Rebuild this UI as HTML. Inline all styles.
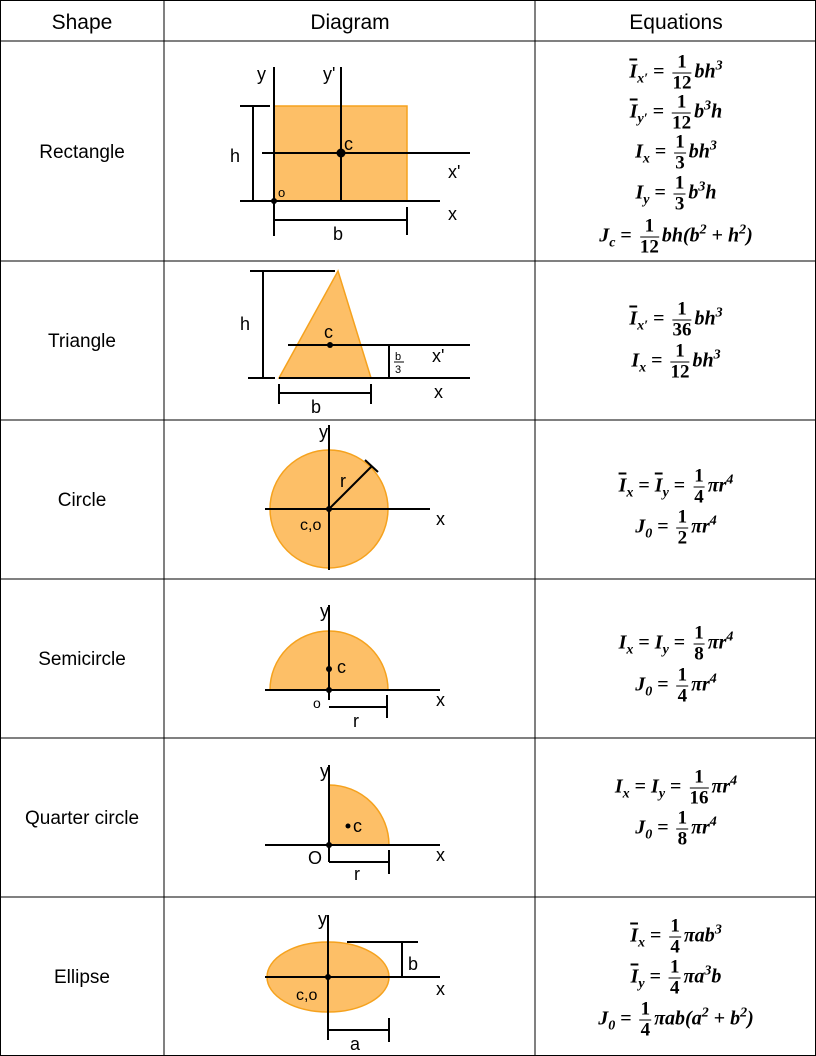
<!DOCTYPE html>
<html><head><meta charset="utf-8"><style>
body{margin:0;width:816px;height:1056px;background:#fff;position:relative;overflow:hidden;font-family:"Liberation Sans",sans-serif}
svg{position:absolute;left:0;top:0}
.eq{position:absolute;left:676px;transform:translate(-50%,-50%);white-space:nowrap;font-family:"Liberation Serif",serif;font-weight:bold;font-style:italic;font-size:20px;line-height:20px;color:#000}
.fr{display:inline-block;vertical-align:middle;text-align:center;font-style:normal;font-size:19px;line-height:18px;margin:0 3px}
.fr .n{display:block;border-bottom:1.4px solid #000;padding:0 1px 1px}
.fr .d{display:block;padding-top:1px}
.op{font-style:normal;margin:0 5px}
.ob{text-decoration:overline}
.sb{font-size:14px;vertical-align:-5px}
.sp{font-size:14px;vertical-align:8px}
</style></head><body>
<svg width="816" height="1056">
<g stroke="#000" stroke-width="1">
<rect x="0.5" y="0.5" width="815" height="1055" fill="none"/>
<line x1="164" y1="0" x2="164" y2="1056"/><line x1="535" y1="0" x2="535" y2="1056"/>
<line x1="0" y1="41" x2="816" y2="41"/><line x1="0" y1="261" x2="816" y2="261"/>
<line x1="0" y1="420" x2="816" y2="420"/><line x1="0" y1="579" x2="816" y2="579"/>
<line x1="0" y1="738" x2="816" y2="738"/><line x1="0" y1="897" x2="816" y2="897"/>
</g>
<g font-family="Liberation Sans" font-size="21" text-anchor="middle">
<text x="82" y="29">Shape</text>
<text x="350" y="29">Diagram</text>
<text x="676" y="29">Equations</text>
</g>
<g font-family="Liberation Sans" font-size="19" text-anchor="middle">
<text x="82" y="158">Rectangle</text>
<text x="82" y="347">Triangle</text>
<text x="82" y="506">Circle</text>
<text x="82" y="665">Semicircle</text>
<text x="82" y="824">Quarter circle</text>
<text x="82" y="983">Ellipse</text>
</g>
<g fill="#FDBF67" stroke="#F5A21E" stroke-width="1.5">
<rect x="274" y="106" width="133" height="95"/>
<polygon points="279,378 371,378 338,271"/>
<circle cx="329" cy="509" r="59"/>
<path d="M270,690 A59,59 0 0 1 388,690 Z"/>
<path d="M329,845 L329,785 A60,60 0 0 1 389,845 Z"/>
<ellipse cx="328" cy="977" rx="61" ry="35"/>
</g>
<g stroke="#000" stroke-width="2" fill="none">
<line x1="274" y1="67" x2="274" y2="236"/><line x1="341" y1="67" x2="341" y2="201"/>
<line x1="240" y1="201" x2="440" y2="201"/><line x1="262" y1="153" x2="470" y2="153"/>
<line x1="253" y1="106" x2="253" y2="201"/><line x1="240" y1="106" x2="270" y2="106"/>
<line x1="274" y1="220" x2="407" y2="220"/><line x1="407" y1="207" x2="407" y2="235"/>
<line x1="250" y1="271" x2="335" y2="271"/><line x1="263" y1="271" x2="263" y2="378"/>
<line x1="248" y1="378" x2="275" y2="378"/><line x1="288" y1="345" x2="470" y2="345"/>
<line x1="279" y1="378" x2="470" y2="378"/><line x1="389" y1="345" x2="389" y2="378"/>
<line x1="279" y1="393" x2="371" y2="393"/><line x1="279" y1="384" x2="279" y2="404"/><line x1="371" y1="384" x2="371" y2="404"/>
<line x1="329" y1="425" x2="329" y2="570"/><line x1="265" y1="509" x2="430" y2="509"/>
<line x1="329" y1="509" x2="372" y2="466"/><line x1="365" y1="460" x2="378" y2="472"/>
<line x1="329" y1="605" x2="329" y2="700"/><line x1="265" y1="690" x2="440" y2="690"/>
<line x1="329" y1="707" x2="387" y2="707"/><line x1="387" y1="695" x2="387" y2="718"/>
<line x1="329" y1="765" x2="329" y2="862"/><line x1="265" y1="845" x2="440" y2="845"/>
<line x1="329" y1="862" x2="389" y2="862"/><line x1="389" y1="850" x2="389" y2="874"/>
<line x1="328" y1="915" x2="328" y2="1040"/><line x1="265" y1="977" x2="440" y2="977"/>
<line x1="347" y1="942" x2="418" y2="942"/><line x1="402" y1="942" x2="402" y2="977"/>
<line x1="328" y1="1030" x2="389" y2="1030"/><line x1="389" y1="1018" x2="389" y2="1042"/>
</g>
<g fill="#000">
<circle cx="341" cy="153" r="4.5"/><circle cx="274" cy="201" r="3"/>
<circle cx="330" cy="345" r="3"/><circle cx="329" cy="509" r="3"/>
<circle cx="329" cy="669" r="3"/><circle cx="329" cy="690" r="3"/>
<circle cx="329" cy="845" r="3"/><circle cx="348" cy="826" r="2.5"/><circle cx="328" cy="977" r="3"/>
</g>
<g font-family="Liberation Sans" font-size="18" fill="#000">
<text x="257" y="80">y</text><text x="323" y="80">y'</text><text x="230" y="162">h</text>
<text x="344" y="150">c</text><text x="448" y="178">x'</text><text x="278" y="197" font-size="13">o</text>
<text x="448" y="220">x</text><text x="333" y="240">b</text>
<text x="240" y="330">h</text><text x="324" y="338">c</text><text x="432" y="362">x'</text>
<text x="434" y="398">x</text><text x="311" y="413">b</text>
<text x="395" y="360" font-size="11">b</text><line x1="394" y1="362" x2="404" y2="362" stroke="#000"/><text x="395" y="373" font-size="11">3</text>
<text x="319" y="438">y</text><text x="340" y="487">r</text><text x="300" y="530" font-size="16">c,o</text><text x="436" y="525">x</text>
<text x="320" y="617">y</text><text x="337" y="673">c</text><text x="313" y="708" font-size="14">o</text><text x="353" y="727">r</text><text x="436" y="706">x</text>
<text x="320" y="777">y</text><text x="353" y="832">c</text><text x="308" y="864">O</text><text x="354" y="880">r</text><text x="436" y="861">x</text>
<text x="318" y="925">y</text><text x="408" y="970">b</text><text x="296" y="1000" font-size="16">c,o</text><text x="436" y="995">x</text><text x="350" y="1050">a</text>
</g>
</svg>

<div class="eq" style="top:73px"><span class="ob">I</span><span class="sb">x′</span><span class="op">=</span><span class="fr"><span class="n">1</span><span class="d">12</span></span>bh<span class="sp">3</span></div>
<div class="eq" style="top:113px"><span class="ob">I</span><span class="sb">y′</span><span class="op">=</span><span class="fr"><span class="n">1</span><span class="d">12</span></span>b<span class="sp">3</span>h</div>
<div class="eq" style="top:153px">I<span class="sb">x</span><span class="op">=</span><span class="fr"><span class="n">1</span><span class="d">3</span></span>bh<span class="sp">3</span></div>
<div class="eq" style="top:194px">I<span class="sb">y</span><span class="op">=</span><span class="fr"><span class="n">1</span><span class="d">3</span></span>b<span class="sp">3</span>h</div>
<div class="eq" style="top:237px">J<span class="sb">c</span><span class="op">=</span><span class="fr"><span class="n">1</span><span class="d">12</span></span>bh(b<span class="sp">2</span><span class="op">+</span>h<span class="sp">2</span>)</div>

<div class="eq" style="top:320px"><span class="ob">I</span><span class="sb">x′</span><span class="op">=</span><span class="fr"><span class="n">1</span><span class="d">36</span></span>bh<span class="sp">3</span></div>
<div class="eq" style="top:362px">I<span class="sb">x</span><span class="op">=</span><span class="fr"><span class="n">1</span><span class="d">12</span></span>bh<span class="sp">3</span></div>

<div class="eq" style="top:487px"><span class="ob">I</span><span class="sb">x</span><span class="op">=</span><span class="ob">I</span><span class="sb">y</span><span class="op">=</span><span class="fr"><span class="n">1</span><span class="d">4</span></span>πr<span class="sp">4</span></div>
<div class="eq" style="top:528px">J<span class="sb">0</span><span class="op">=</span><span class="fr"><span class="n">1</span><span class="d">2</span></span>πr<span class="sp">4</span></div>

<div class="eq" style="top:644px">I<span class="sb">x</span><span class="op">=</span>I<span class="sb">y</span><span class="op">=</span><span class="fr"><span class="n">1</span><span class="d">8</span></span>πr<span class="sp">4</span></div>
<div class="eq" style="top:686px">J<span class="sb">0</span><span class="op">=</span><span class="fr"><span class="n">1</span><span class="d">4</span></span>πr<span class="sp">4</span></div>

<div class="eq" style="top:788px">I<span class="sb">x</span><span class="op">=</span>I<span class="sb">y</span><span class="op">=</span><span class="fr"><span class="n">1</span><span class="d">16</span></span>πr<span class="sp">4</span></div>
<div class="eq" style="top:829px">J<span class="sb">0</span><span class="op">=</span><span class="fr"><span class="n">1</span><span class="d">8</span></span>πr<span class="sp">4</span></div>

<div class="eq" style="top:937px"><span class="ob">I</span><span class="sb">x</span><span class="op">=</span><span class="fr"><span class="n">1</span><span class="d">4</span></span>πab<span class="sp">3</span></div>
<div class="eq" style="top:978px"><span class="ob">I</span><span class="sb">y</span><span class="op">=</span><span class="fr"><span class="n">1</span><span class="d">4</span></span>πa<span class="sp">3</span>b</div>
<div class="eq" style="top:1020px">J<span class="sb">0</span><span class="op">=</span><span class="fr"><span class="n">1</span><span class="d">4</span></span>πab(a<span class="sp">2</span><span class="op">+</span>b<span class="sp">2</span>)</div>
</body></html>
